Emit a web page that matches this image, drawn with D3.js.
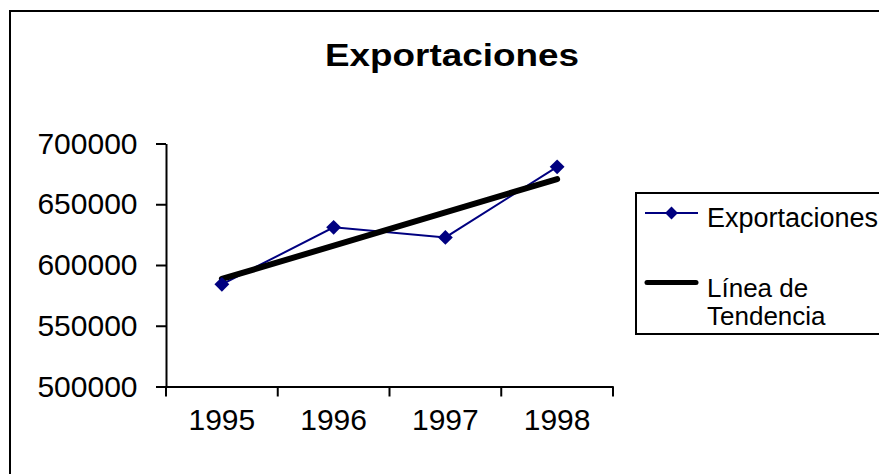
<!DOCTYPE html>
<html>
<head>
<meta charset="utf-8">
<script src="https://cdn.jsdelivr.net/npm/d3@7"></script>
<style>
  html, body { margin: 0; padding: 0; background: #fff; }
  svg { display: block; font-family: "Liberation Sans", Arial, sans-serif; }
</style>
</head>
<body>
<svg id="chart" width="879" height="474"></svg>
<script>
// Export figures per year
const years = ["1995", "1996", "1997", "1998"];
const exportaciones = [584100, 631000, 622700, 680800];

// Trend line endpoints (first and last year)
const trendYears = ["1995", "1998"];
const trendValues = [588500, 670700];

const yTicks = [500000, 550000, 600000, 650000, 700000];

const seriesNames = ["Exportaciones", "Línea de Tendencia"];

const svg = d3.select("#chart");

// Outer chart frame (runs off the right and bottom edges)
svg.append("rect")
  .attr("x", 10).attr("y", 11)
  .attr("width", 900).attr("height", 500)
  .attr("fill", "none").attr("stroke", "#000").attr("stroke-width", 2);

const plot = { left: 166, right: 613, top: 143.5, bottom: 386.5 };

const x = d3.scaleBand().domain(years).range([plot.left, plot.right]).padding(0);
const y = d3.scaleLinear().domain([500000, 700000]).range([plot.bottom, plot.top]);

const cx = d => x(d) + x.bandwidth() / 2;

// Title
svg.append("text")
  .attr("x", 452).attr("y", 66)
  .attr("text-anchor", "middle")
  .attr("font-size", 32).attr("font-weight", "bold")
  .attr("textLength", 254).attr("lengthAdjust", "spacingAndGlyphs")
  .text("Exportaciones");

// Y axis
const yAxis = svg.append("g")
  .attr("transform", `translate(${plot.left},0)`)
  .call(d3.axisLeft(y).tickValues(yTicks).tickSize(10).tickSizeOuter(0).tickPadding(18.5).tickFormat(d3.format("d")));
yAxis.selectAll("text").attr("font-size", 30).attr("fill", "#000").attr("font-family", "Liberation Sans, Arial, sans-serif");

// X axis: labels centred in categories, tick marks on category boundaries
const xAxis = svg.append("g")
  .attr("transform", `translate(0,${plot.bottom})`)
  .call(d3.axisBottom(x).tickSize(0).tickPadding(22));
xAxis.selectAll("text").attr("font-size", 30).attr("fill", "#000").attr("font-family", "Liberation Sans, Arial, sans-serif");

const boundaries = d3.range(years.length + 1).map(i => plot.left + i * x.bandwidth());
xAxis.selectAll(".bound")
  .data(boundaries)
  .join("line")
  .attr("class", "bound")
  .attr("x1", d => d).attr("x2", d => d)
  .attr("y1", 0).attr("y2", 10)
  .attr("stroke", "#000").attr("stroke-width", 2);

svg.selectAll(".domain").attr("stroke", "#000").attr("stroke-width", 2);
svg.selectAll(".tick line").attr("stroke", "#000").attr("stroke-width", 2);

// Export series line
const line = d3.line().x((d, i) => cx(years[i])).y(d => y(d));
svg.append("path")
  .datum(exportaciones)
  .attr("d", line)
  .attr("fill", "none").attr("stroke", "#000080").attr("stroke-width", 2);

// Trend line
const trendLine = d3.line().x((d, i) => cx(trendYears[i])).y(d => y(d));
svg.append("path")
  .datum(trendValues)
  .attr("d", trendLine)
  .attr("fill", "none").attr("stroke", "#000").attr("stroke-width", 6)
  .attr("stroke-linecap", "round");

// Diamond markers
const diamond = d3.symbol().type(d3.symbolDiamond2).size(140);
svg.selectAll(".marker")
  .data(exportaciones)
  .join("path")
  .attr("class", "marker")
  .attr("transform", (d, i) => `translate(${cx(years[i])},${y(d)})`)
  .attr("d", diamond)
  .attr("fill", "#000080");

// Legend
const legend = svg.append("g");
legend.append("rect")
  .attr("x", 636).attr("y", 193)
  .attr("width", 300).attr("height", 141)
  .attr("fill", "#fff").attr("stroke", "#000").attr("stroke-width", 2);

legend.append("line")
  .attr("x1", 645).attr("x2", 698).attr("y1", 213).attr("y2", 213)
  .attr("stroke", "#000080").attr("stroke-width", 2);
legend.append("path")
  .attr("transform", "translate(671.5,213)")
  .attr("d", d3.symbol().type(d3.symbolDiamond2).size(105)())
  .attr("fill", "#000080");
legend.append("text")
  .attr("x", 707).attr("y", 226.5)
  .attr("font-size", 27)
  .text(seriesNames[0]);

legend.append("line")
  .attr("x1", 647).attr("x2", 696).attr("y1", 282.5).attr("y2", 282.5)
  .attr("stroke", "#000").attr("stroke-width", 5).attr("stroke-linecap", "round");
const t2 = legend.append("text").attr("x", 707).attr("font-size", 26);
t2.append("tspan").attr("x", 707).attr("y", 297).text("Línea de");
t2.append("tspan").attr("x", 707).attr("y", 324.5).text("Tendencia");
</script>
</body>
</html>
